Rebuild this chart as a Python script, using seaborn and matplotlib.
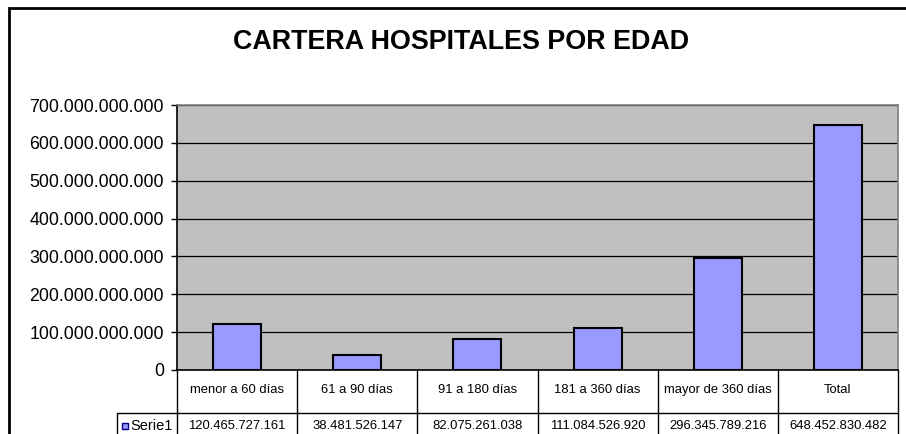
import pandas as pd
import matplotlib
matplotlib.use("Agg")
import matplotlib.pyplot as plt
import matplotlib.transforms as mtransforms
from matplotlib.patches import Rectangle
import seaborn as sns

# data
categorias = ["menor a 60 días", "61 a 90 días", "91 a 180 días",
              "181 a 360 días", "mayor de 360 días", "Total"]
valores = [120465727161, 38481526147, 82075261038,
           111084526920, 296345789216, 648452830482]
serie = "Serie1"
titulo = "CARTERA HOSPITALES POR EDAD"

df = pd.DataFrame({"Edad": categorias, "Cartera": valores})

sns.set_style("white")
plt.rcParams["font.family"] = ["Liberation Sans", "DejaVu Sans"]
plt.rcParams["text.color"] = "black"
plt.rcParams["ytick.labelcolor"] = "black"

def miles(v):
    return f"{int(round(v)):,}".replace(",", ".")

fig = plt.figure(figsize=(9.06, 4.34), dpi=100)
ax = fig.add_axes([177 / 906, 64 / 434, 721 / 906, 265 / 434])

# outer chart border (cropped on right and bottom)
fig.patches.append(Rectangle((8.5 / 906, -0.2), 1.2, (434 - 8) / 434 + 0.2,
                             transform=fig.transFigure, fill=False,
                             edgecolor="black", linewidth=2))

ax.set_facecolor("#C0C0C0")
sns.barplot(data=df, x="Edad", y="Cartera", color="#9999FF", width=0.4,
            edgecolor="black", linewidth=1.5, saturation=1, ax=ax, zorder=3)

ax.set_xlim(-0.5, 5.5)
ax.set_ylim(0, 700e9)
ax.set_yticks(range(0, 700_000_000_001, 100_000_000_000))
ax.set_yticklabels([miles(v) for v in ax.get_yticks()], fontsize=12.8)
ax.set_xticks([])
ax.set_xlabel("")
ax.set_ylabel("")
ax.yaxis.grid(True, color="black", linewidth=0.9)
ax.set_axisbelow(True)
ax.tick_params(axis="y", direction="out", length=4, width=1, color="black",
               pad=5.5, left=True)
for lado in ["top", "right"]:
    ax.spines[lado].set_color("#808080")
    ax.spines[lado].set_linewidth(1.2)
for lado in ["left", "bottom"]:
    ax.spines[lado].set_color("black")
    ax.spines[lado].set_linewidth(1.2)

fig.text(461 / 906, 1 - 42 / 434, titulo, ha="center", va="center",
         fontsize=19.4, fontweight="bold")

# data table under the axis
tr = mtransforms.blended_transform_factory(ax.transData, ax.transAxes)
px = 1 / 265
cw = 721 / 6
fila_cat = -20 * px
fila_sep = -43 * px
fila_val = -56 * px
fondo = -80 * px

for i in range(len(categorias) + 1):
    ax.plot([i - 0.5, i - 0.5], [0, fondo], transform=tr, color="black",
            linewidth=1, clip_on=False)
leg_x = -0.5 - 60 / cw
ax.plot([leg_x, 5.5], [fila_sep, fila_sep], transform=tr, color="black",
        linewidth=1, clip_on=False)
ax.plot([leg_x, leg_x], [fila_sep, fondo], transform=tr, color="black",
        linewidth=1, clip_on=False)

for i, (c, v) in enumerate(zip(categorias, valores)):
    ax.text(i, fila_cat, c, transform=tr, ha="center", va="center", fontsize=9.4)
    ax.text(i, fila_val, miles(v), transform=tr, ha="center", va="center",
            fontsize=9.4)

ax.add_patch(Rectangle((leg_x + 5 / cw, fila_val - 3 * px), 6 / cw, 6 * px,
                       transform=tr, facecolor="#9999FF", edgecolor="#000080",
                       linewidth=1, clip_on=False))
ax.text(leg_x + 13 / cw, fila_val, serie, transform=tr, ha="left",
        va="center", fontsize=10.5)

fig.savefig("out.png", dpi=100)
